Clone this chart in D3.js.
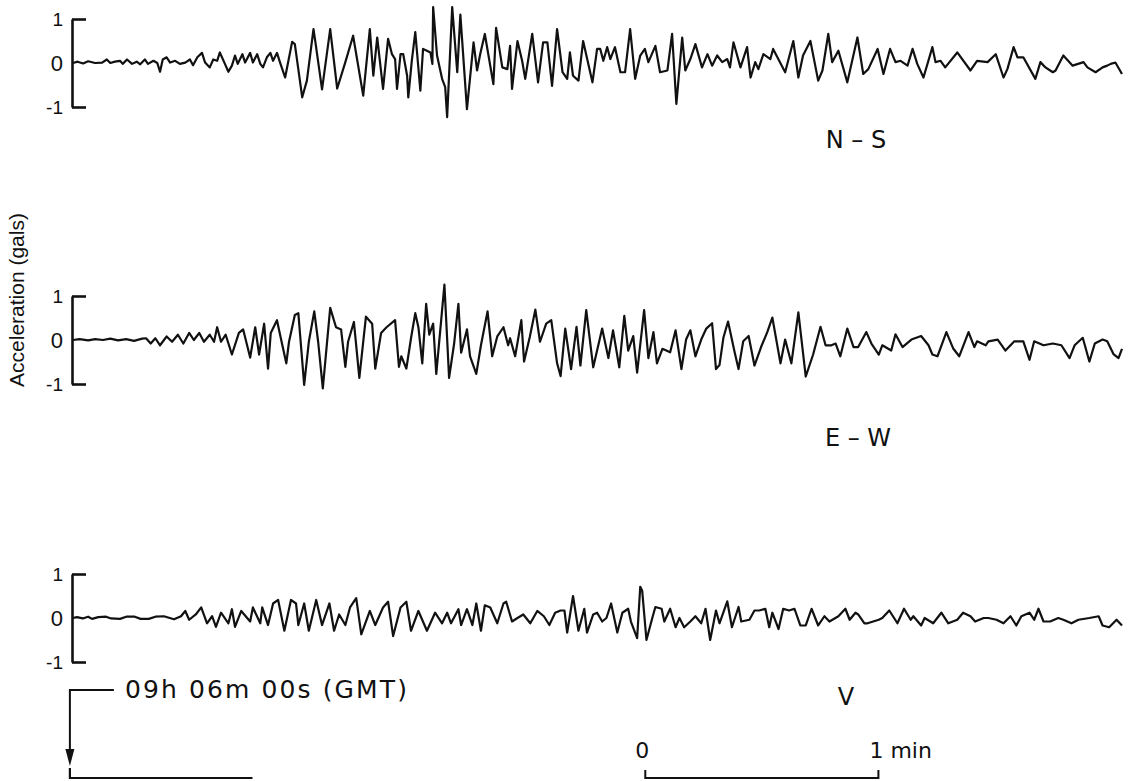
<!DOCTYPE html>
<html>
<head>
<meta charset="utf-8">
<script src="https://cdn.jsdelivr.net/npm/d3@7"></script>
<style>
  body { margin: 0; background: #fff; }
  text { font-family: "DejaVu Sans", "Liberation Sans", sans-serif; fill: #111; }
</style>
</head>
<body>
<div id="chart"></div>
<script>
// seconds after the start of the record, acceleration in gals
const nsTime = [
  0,1.2,2.6,3.9,5.7,7.5,8.7,9.6,10.8,12.1,
  12.8,13.9,15.2,16.4,17.3,18.5,19.3,20.7,21.7,22.4,
  23.1,24.1,25.0,26.3,27.5,28.9,30.1,30.9,32.0,33.2,
  34.0,35.2,36.1,37.1,37.8,39.1,40.0,40.9,41.7,42.4,
  43.6,44.3,45.6,46.3,47.4,48.2,48.9,49.9,50.8,51.5,
  52.5,53.3,54.6,56.4,57.1,59.0,60.2,61.9,62.4,64.1,
  66.2,68.0,70.1,72.1,74.7,76.4,77.3,78.3,79.8,81.1,
  82.1,82.9,83.4,84.3,85.0,86.0,86.3,87.2,88.1,89.4,
  90.1,91.1,92.0,92.5,92.7,93.7,95.0,95.8,96.3,97.6,
  98.9,99.7,101.4,103.1,104.0,104.8,106.0,108.2,108.9,110.5,
  111.8,112.5,113.0,114.4,115.6,116.4,118.2,119.7,121.0,122.1,
  123.3,124.6,126.0,127.2,127.9,128.7,130.1,131.3,133.7,134.9,
  135.7,136.5,137.5,138.3,139.5,140.9,142.1,143.4,144.7,146.0,
  147.2,148.1,149.9,151.1,153.0,154.2,155.3,156.8,157.6,158.9,
  160.2,161.9,163.3,164.5,165.8,167.1,168.4,169.1,170.0,171.8,
  173.5,174.4,175.6,176.4,177.7,179.5,180.2,183.3,185.4,186.7,
  187.9,189.8,191.8,192.9,194.4,195.4,197.0,199.3,201.9,203.4,
  204.7,207.1,208.6,210.3,211.7,213.0,214.8,216.1,217.3,218.9,
  221.2,222.0,223.3,224.5,227.6,231.0,232.7,235.4,237.5,239.5,
  240.5,242.1,243.1,244.6,247.7,249.0,250.3,252.2,252.9,254.9,
  257.3,260.1,261.1,263.2,265.0,266.2,267.1,268.3,270.0
];
const nsAcc = [
  0.00,0.03,-0.01,0.04,0.00,0.01,0.08,0.00,0.03,0.05,
  -0.02,0.08,-0.02,0.03,-0.03,0.08,-0.02,0.05,0.00,-0.20,
  0.08,0.13,0.01,0.05,-0.02,0.01,0.08,-0.05,0.13,0.23,
  0.01,-0.10,0.08,0.05,0.24,-0.02,-0.20,-0.06,0.17,-0.02,
  0.20,0.01,0.23,0.01,0.20,-0.02,-0.10,0.13,0.23,0.05,
  0.23,0.01,-0.33,0.48,0.43,-0.78,-0.40,0.77,0.47,-0.60,
  0.77,-0.58,0.02,0.62,-0.74,0.77,-0.29,0.58,-0.59,0.55,
  0.20,0.09,-0.59,0.20,0.20,-0.29,-0.78,0.05,0.70,-0.63,
  0.32,0.28,0.24,-0.02,1.27,0.17,-0.36,-0.55,-1.23,1.27,
  -0.21,1.10,-1.05,0.47,-0.17,0.20,0.66,-0.48,0.80,-0.10,
  -0.14,0.39,-0.59,0.50,0.05,-0.36,0.66,-0.44,0.47,0.47,
  -0.52,0.77,-0.21,-0.36,0.24,-0.29,-0.40,0.50,-0.44,0.32,
  0.32,0.05,0.36,0.09,0.36,-0.21,-0.21,0.77,-0.36,0.17,
  0.32,0.02,0.39,-0.21,-0.17,0.66,-0.93,0.58,-0.17,0.09,
  0.43,-0.10,0.20,-0.06,0.17,0.02,0.09,-0.10,0.47,-0.10,
  0.36,-0.33,0.02,-0.14,0.20,0.09,0.32,-0.21,0.50,-0.33,
  0.17,0.50,-0.40,-0.17,0.66,0.02,0.28,-0.44,0.58,-0.25,
  -0.14,0.32,-0.25,0.32,0.02,0.05,-0.06,0.32,-0.02,-0.33,
  0.36,0.02,0.05,-0.10,0.24,-0.17,0.05,0.02,0.20,-0.33,
  -0.14,0.36,0.13,0.13,-0.36,0.02,-0.10,-0.21,-0.17,0.17,
  -0.06,0.02,-0.10,-0.21,-0.10,-0.06,-0.02,0.01,-0.25
];

const ewTime = [
  0,1.7,3.9,5.7,7.7,9.6,11.6,13.7,15.7,17.8,
  18.8,20.0,21.2,22.4,24.1,25.5,27.0,28.4,29.9,31.1,
  32.5,33.7,35.2,36.3,37.1,38.1,39.3,40.9,42.7,43.8,
  45.6,46.9,47.9,49.2,50.2,50.9,52.5,53.3,54.9,55.6,
  57.1,58.0,59.5,60.7,62.1,63.1,64.3,66.2,67.7,69.0,
  70.1,70.8,72.3,73.7,75.4,77.0,77.8,79.3,80.7,82.9,
  83.9,84.5,85.8,87.0,88.1,88.9,89.9,90.9,91.7,92.7,
  93.5,95.6,96.8,98.1,99.2,99.9,101.4,102.2,103.8,105.0,
  106.7,107.9,109.2,110.8,112.0,112.5,113.8,115.4,116.1,117.6,
  119.0,120.2,121.8,123.1,124.6,125.5,126.7,128.2,129.6,130.6,
  132.1,133.9,136.2,137.8,139.0,140.6,141.9,142.9,144.2,145.2,
  147.0,148.1,149.4,150.3,151.7,153.7,155.1,156.6,157.8,158.9,
  160.2,161.7,163.0,164.5,165.5,166.4,167.4,168.6,170.3,171.3,
  172.5,173.9,175.4,177.1,178.7,180.0,182.1,183.3,184.9,186.7,
  188.6,190.5,192.4,193.7,195.2,196.3,197.5,199.3,200.9,202.1,
  204.2,205.5,207.4,208.3,210.6,211.7,213.5,215.8,218.3,220.2,
  221.2,222.5,224.8,226.6,228.1,230.5,232.0,232.7,234.9,235.6,
  238.0,240.0,242.3,244.6,246.2,247.4,249.8,252.2,254.4,256.5,
  257.8,259.9,261.6,263.0,265.0,266.2,267.8,269.1,270.0
];
const ewAcc = [
  0.00,0.02,-0.01,0.02,0.00,0.03,-0.01,0.02,-0.02,0.03,
  0.04,-0.08,0.04,-0.12,0.08,-0.04,0.12,-0.08,0.16,0.00,
  0.16,-0.04,0.12,-0.04,0.29,-0.04,0.12,-0.33,0.16,0.24,
  -0.40,0.29,-0.33,0.37,-0.65,0.16,0.45,0.12,-0.53,-0.04,
  0.57,0.61,-1.02,-0.04,0.65,-0.04,-1.10,0.73,0.29,0.24,
  -0.61,-0.04,0.41,-0.86,0.53,0.37,-0.65,0.16,0.29,0.45,
  -0.61,-0.37,-0.65,0.04,0.61,0.29,-0.53,0.82,0.12,0.37,
  -0.77,1.26,-0.86,-0.08,0.82,-0.29,0.24,-0.37,-0.77,-0.12,
  0.65,-0.37,0.08,0.29,-0.12,0.04,-0.37,0.45,-0.49,0.08,
  0.69,-0.04,0.37,0.45,-0.53,-0.82,0.26,-0.66,0.30,-0.58,
  0.68,-0.62,0.26,-0.41,0.22,-0.62,0.55,-0.24,0.09,-0.74,
  0.68,-0.41,0.18,-0.53,-0.20,-0.28,0.22,-0.66,0.01,0.22,
  -0.37,0.01,0.26,0.38,-0.66,-0.57,0.05,0.42,-0.28,-0.66,
  -0.03,0.09,-0.58,-0.16,0.18,0.51,-0.53,0.01,-0.53,0.63,
  -0.83,-0.33,0.30,-0.12,-0.12,-0.08,-0.37,0.26,-0.16,-0.16,
  0.18,-0.08,-0.33,-0.12,-0.24,0.13,-0.16,0.01,0.09,-0.12,
  -0.33,-0.37,0.18,-0.20,-0.37,0.18,-0.16,-0.03,-0.12,-0.03,
  0.01,-0.24,-0.03,-0.03,-0.45,-0.03,-0.12,-0.08,-0.12,-0.41,
  -0.12,0.05,-0.49,-0.08,0.01,-0.03,-0.32,-0.41,-0.20
];

const vTime = [
  0,1.0,2.5,3.9,4.9,6.5,8.5,9.8,12.1,13.7,
  15.9,17.4,19.5,21.2,23.4,26.0,27.8,28.9,29.9,31.6,
  33.0,34.5,35.8,36.8,38.1,40.0,40.9,41.7,43.3,45.6,
  46.3,48.2,48.7,50.2,51.5,52.8,54.4,56.1,57.4,58.0,
  59.5,60.7,62.6,64.1,66.0,67.2,68.5,70.1,71.3,72.9,
  74.2,76.4,77.8,79.8,81.1,82.4,84.3,85.8,87.0,88.9,
  91.1,93.2,95.0,96.3,97.3,99.2,99.9,101.4,102.8,103.8,
  105.0,106.0,107.4,109.2,110.8,111.5,113.0,114.4,115.9,117.7,
  119.5,121.2,122.6,124.1,125.5,126.5,127.2,128.7,130.1,131.6,
  132.3,133.9,134.9,136.2,137.3,138.5,140.1,141.4,142.9,143.6,
  145.2,146.0,146.5,147.6,149.1,149.9,151.5,152.2,153.7,155.1,
  156.1,157.3,158.9,160.2,161.7,162.8,164.0,165.5,166.4,168.4,
  169.6,171.3,172.0,174.1,175.4,176.6,178.2,179.2,180.0,181.6,
  182.8,184.3,185.7,187.2,188.6,190.1,191.8,193.4,194.7,197.0,
  198.8,199.9,201.4,202.1,203.7,204.5,207.4,208.3,210.1,212.2,
  213.9,215.6,216.3,218.3,219.2,221.4,223.5,225.3,227.6,229.1,
  231.0,232.2,234.4,235.6,237.7,239.5,241.3,242.8,244.1,246.2,
  247.4,248.5,249.8,251.5,253.6,254.9,257.0,258.8,261.6,264.0,
  265.0,266.7,268.6,270.0
];
const vAcc = [
  0.00,0.02,-0.01,0.03,-0.02,0.02,0.03,-0.01,-0.02,0.03,
  0.03,-0.02,-0.02,0.03,0.04,-0.03,0.04,0.16,-0.04,0.08,
  0.24,-0.12,0.04,-0.20,0.12,-0.12,0.20,-0.20,0.16,-0.08,
  0.24,-0.12,0.24,-0.16,0.33,0.41,-0.29,0.41,0.33,-0.16,
  0.33,-0.29,0.41,-0.16,0.33,-0.29,0.08,-0.16,0.24,0.45,
  -0.37,0.16,-0.16,0.24,0.37,-0.41,0.24,0.37,-0.29,0.16,
  -0.29,0.12,-0.12,0.12,-0.12,0.20,-0.16,0.20,-0.16,0.33,
  -0.29,0.29,0.24,-0.12,0.33,0.37,-0.08,0.00,0.08,-0.12,
  0.16,0.04,-0.16,0.12,0.17,0.17,-0.33,0.50,-0.29,0.21,
  -0.33,0.08,0.12,-0.08,0.00,0.33,-0.33,0.12,0.21,-0.08,
  -0.46,0.71,0.62,-0.50,0.00,0.25,0.21,-0.08,0.21,-0.21,
  0.00,-0.21,-0.08,0.04,-0.12,0.21,-0.50,0.17,-0.12,0.38,
  -0.21,0.25,-0.08,-0.04,0.17,0.17,0.21,-0.21,0.12,-0.25,
  0.21,0.17,0.21,-0.17,-0.17,0.21,-0.17,0.04,-0.08,0.04,
  0.21,-0.04,0.12,0.08,-0.12,-0.12,-0.04,0.00,0.17,-0.12,
  0.21,-0.04,0.04,-0.17,0.00,-0.12,0.12,-0.12,-0.04,0.12,
  0.04,-0.08,0.00,0.00,-0.04,-0.12,0.04,-0.17,0.04,0.12,
  -0.04,0.21,-0.08,-0.08,0.00,-0.04,-0.12,-0.04,0.00,0.04,
  -0.17,-0.21,-0.04,-0.17
];

const components = ["N – S", "E – W", "V"];
const yTicks = [-1, 0, 1];
const startLabel = "09h 06m 00s (GMT)";
const startMark = -0.8;      // s, arrow at 09h 06m 00s
const scaleBarStart = 147.3; // s
const scaleBarLength = 60;   // s = 1 min

const width = 1131;
const height = 781;

const svg = d3.select("#chart").append("svg")
  .attr("width", width)
  .attr("height", height);

const x = d3.scaleLinear().domain([0, 270]).range([73, 1122]);

const traces = [
  {name: components[0], t: nsTime, a: nsAcc, zero: 63, lx: 856, ly: 148},
  {name: components[1], t: ewTime, a: ewAcc, zero: 340, lx: 858, ly: 446},
  {name: components[2], t: vTime, a: vAcc, zero: 618, lx: 846, ly: 705}
];

traces.forEach(tr => {
  const y = d3.scaleLinear().domain([-1, 1]).range([tr.zero + 44, tr.zero - 44]);
  const pts = tr.t.map((d, i) => [d, tr.a[i]]);

  const line = d3.line()
    .x(d => x(d[0]))
    .y(d => y(d[1]));

  svg.append("path")
    .datum(pts)
    .attr("fill", "none")
    .attr("stroke", "#111")
    .attr("stroke-width", 2.2)
    .attr("stroke-linejoin", "round")
    .attr("d", line);

  // bracket style y axis
  const ax = svg.append("g")
    .attr("transform", "translate(" + (x(0) - 1) + ",0)")
    .call(d3.axisLeft(y).tickValues(yTicks).tickSize(-14).tickSizeOuter(0).tickPadding(9)
      .tickFormat(d => d == 0 ? "0" : (d < 0 ? "-1" : "1")));
  ax.select(".domain").attr("stroke", "#111").attr("stroke-width", 2.6);
  ax.selectAll(".tick line").attr("stroke", "#111").attr("stroke-width", 2.6);
  ax.selectAll(".tick").filter(d => d == 0).select("line").remove();
  ax.selectAll(".tick text")
    .style("font-family", "Liberation Sans, Arial, sans-serif")
    .style("font-size", d => d == 0 ? "22px" : "19px")
    .attr("fill", "#111")
    .attr("dy", "0.36em");

  svg.append("text")
    .attr("x", tr.lx)
    .attr("y", tr.ly)
    .attr("text-anchor", "middle")
    .style("font-size", "24px")
    .text(tr.name);
});

// y title
svg.append("text")
  .attr("transform", "translate(24,300) rotate(-90)")
  .attr("text-anchor", "middle")
  .style("font-family", "Liberation Sans, Arial, sans-serif")
  .style("font-size", "21px")
  .text("Acceleration (gals)");

// start time marker
const mx = x(startMark);
svg.append("path")
  .attr("fill", "none")
  .attr("stroke", "#111")
  .attr("stroke-width", 2)
  .attr("d", "M" + (mx + 44) + ",690 H" + mx + " V752");
svg.append("path")
  .attr("fill", "#111")
  .attr("d", "M" + (mx - 4.5) + ",749 L" + (mx + 4.5) + ",749 L" + mx + ",766 Z");
svg.append("path")
  .attr("fill", "none")
  .attr("stroke", "#111")
  .attr("stroke-width", 2.2)
  .attr("d", "M" + mx + ",768 V778 H" + x(startMark + 47));
svg.append("text")
  .attr("x", mx + 55)
  .attr("y", 698)
  .attr("textLength", 282)
  .attr("lengthAdjust", "spacing")
  .style("font-size", "25px")
  .text(startLabel);

// 1 minute scale bar
const b0 = x(scaleBarStart), b1 = x(scaleBarStart + scaleBarLength);
svg.append("path")
  .attr("fill", "none")
  .attr("stroke", "#111")
  .attr("stroke-width", 2)
  .attr("d", "M" + b0 + ",770 V778 H" + b1 + " V770");
svg.append("text")
  .attr("x", b0 - 3)
  .attr("y", 758)
  .attr("text-anchor", "middle")
  .style("font-size", "22px")
  .text("0");
svg.append("text")
  .attr("x", b1 - 9)
  .attr("y", 758)
  .style("font-size", "22px")
  .text("1 min");
</script>
</body>
</html>
